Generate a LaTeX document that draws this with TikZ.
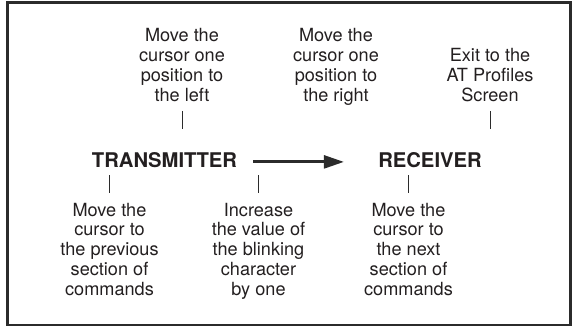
\documentclass[tikz,border=0pt]{standalone}
\usepackage{fontspec}
\setmainfont{TeX Gyre Heros}
\usetikzlibrary{arrows.meta,calc}
\definecolor{cInkT}{HTML}{231F20}
\definecolor{cInkD}{HTML}{2B2B2B}
\tikzset{
  note/.style  = {align=center, inner sep=0pt, anchor=north, text=cInkT,
                  font=\fontsize{12.9pt}{14.2pt}\selectfont},
  unit/.style  = {inner sep=0pt, anchor=north, text=cInkT,
                  font=\fontsize{14.4pt}{16pt}\selectfont\bfseries},
  tick/.style  = {cInkD, line width=0.7pt},
  flow/.style  = {cInkD, line width=2.1pt, -{Triangle[length=5mm,width=3.2mm]}},
  frame/.style = {cInkD, line width=1.9pt},
}

\begin{document}
\begin{tikzpicture}
  \useasboundingbox (0,0) rectangle (14.325,8.2);
  \draw[frame] (0.18,0.075) rectangle (14.26,8.13);
  % key hints above the line
  \node[note] (tl) at (4.55,7.5) {Move the\\cursor one\\position to\\the left};
  \node[note] (tm) at (8.4,7.5) {Move the\\cursor one\\position to\\the right};
  \node[note] (tr) at (12.25,7.0) {Exit to the\\AT Profiles\\Screen};
  \node[unit] (tx) at (4.1125,4.4) {TRANSMITTER};
  \node[unit] (rx) at (10.75,4.4) {RECEIVER};
  % key hints below the line
  \node[note] (bl) at (2.7375,3.1375) {Move the\\cursor to\\the previous\\section of\\commands};
  \node[note] (bm) at (6.4625,3.1375) {Increase\\the value of\\the blinking\\character\\by one};
  \node[note] (br) at (10.2125,3.1375) {Move the\\cursor to\\the next\\section of\\commands};
  \draw[flow, shorten <=0.4cm, shorten >=0.85cm] ([yshift=-0.05cm]tx.east) -- ([yshift=-0.05cm]rx.west);
  \draw[tick, shorten <=0.225cm, shorten >=0.575cm] (tl.south) -- (tl.south |- tx.north);
  \draw[tick, shorten <=0.225cm, shorten >=0.575cm] (tr.south) -- (tr.south |- rx.north);
  \draw[tick, shorten <=0.24cm, shorten >=0.175cm] (bl.north) -- (bl.north |- tx.south);
  \draw[tick, shorten <=0.24cm, shorten >=0.175cm] (bm.north) -- (bm.north |- tx.south);
  \draw[tick, shorten <=0.24cm, shorten >=0.175cm] (br.north) -- (br.north |- rx.south);
\end{tikzpicture}
\end{document}
